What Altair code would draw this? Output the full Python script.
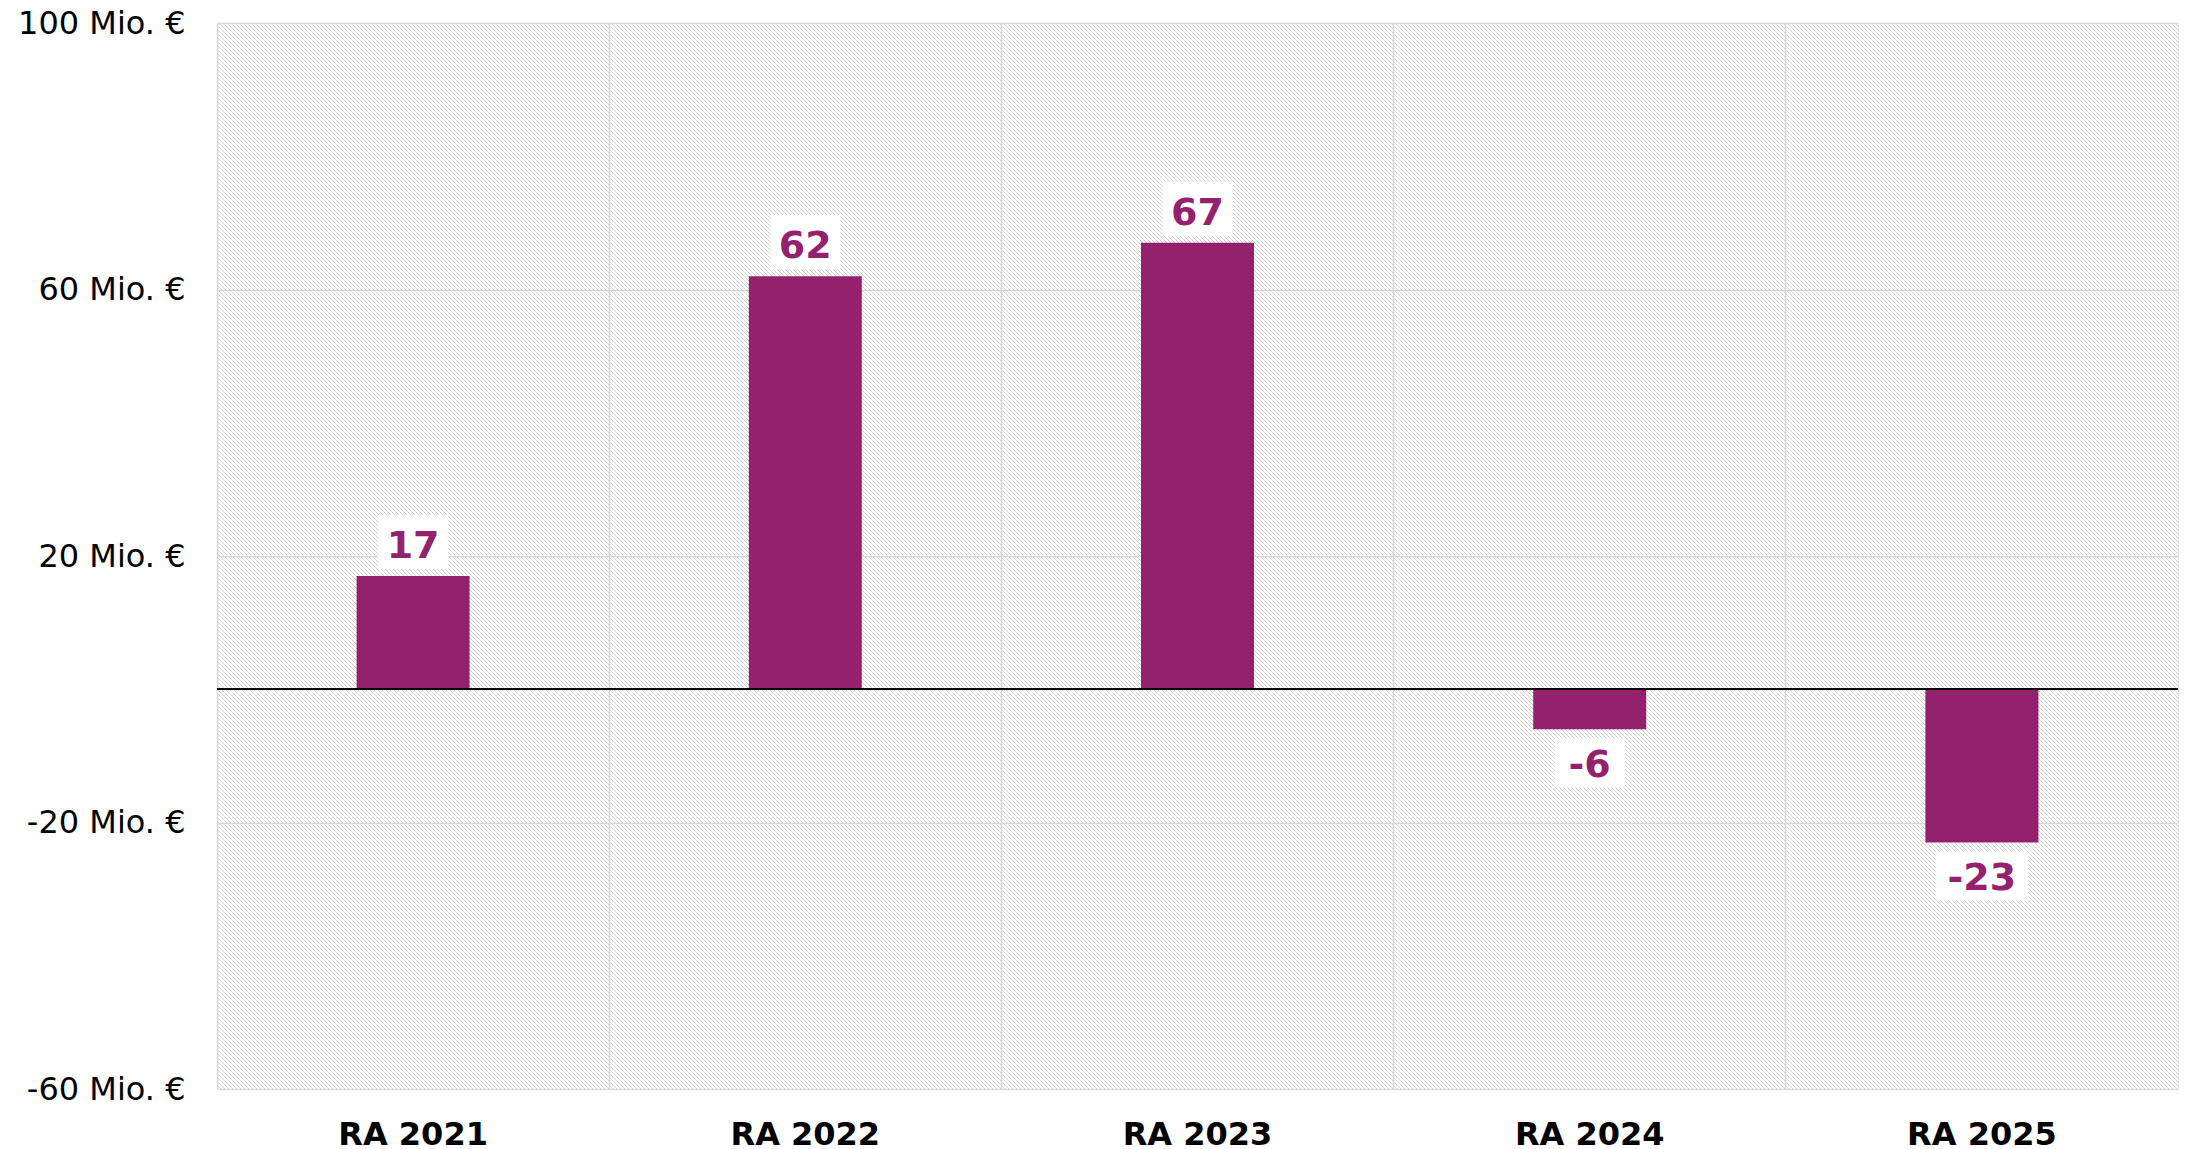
import altair as alt
import pandas as pd

categories = ["RA 2021", "RA 2022", "RA 2023", "RA 2024", "RA 2025"]
values = [17, 62, 67, -6, -23]
y_ticks = [-60, -20, 20, 60, 100]

BAR_COLOR = "#93216E"
FONT = "DejaVu Sans"
W, H = 1961, 1066

df = pd.DataFrame({"cat": categories, "value": values})

xenc = alt.X("cat:N", sort=categories, title=None,
             scale=alt.Scale(paddingInner=0, paddingOuter=0),
             axis=alt.Axis(labelAngle=0, labelFont=FONT, labelFontSize=32,
                           labelFontWeight="bold", labelColor="#000000",
                           labelPadding=30, ticks=False, tickSize=0, domain=False,
                           grid=True, bandPosition=0, gridColor="#d9d9d9",
                           gridWidth=1.5))
yscale = alt.Scale(domain=[-60, 100], nice=False, zero=False)
yenc = alt.Y("value:Q", scale=yscale, title=None,
             axis=alt.Axis(values=y_ticks, labelExpr="datum.value + ' Mio. €'",
                           labelFont=FONT, labelFontSize=32, labelColor="#000000",
                           labelPadding=32, ticks=False, tickSize=0, domain=False,
                           grid=True, gridColor="#d9d9d9", gridWidth=1.5))

base = alt.Chart(df)

bars = base.mark_bar(color=BAR_COLOR, size=113).encode(x=xenc, y=yenc)

zero = base.mark_rule(color="#000000", strokeWidth=1.5).encode(
    y=alt.datum(0, scale=yscale))

lab = base.transform_calculate(
    label="toString(datum.value)",
    bw="26 + 22 * length(toString(datum.value))")

pos = lab.transform_filter("datum.value >= 0")
neg = lab.transform_filter("datum.value < 0")

box_pos = pos.mark_bar(color="#ffffff", yOffset=-61, y2Offset=-7).encode(
    x=alt.X("cat:N", sort=categories), y=alt.Y("value:Q", scale=yscale),
    y2="value:Q", size=alt.Size("bw:Q", scale=None, legend=None))
box_neg = neg.mark_bar(color="#ffffff", yOffset=9, y2Offset=58).encode(
    x=alt.X("cat:N", sort=categories), y=alt.Y("value:Q", scale=yscale),
    y2="value:Q", size=alt.Size("bw:Q", scale=None, legend=None))

txt_pos = pos.mark_text(font=FONT, fontSize=38, fontWeight="bold",
                        color=BAR_COLOR, baseline="middle", yOffset=-29).encode(
    x=alt.X("cat:N", sort=categories), y=alt.Y("value:Q", scale=yscale),
    text="label:N")
txt_neg = neg.mark_text(font=FONT, fontSize=38, fontWeight="bold",
                        color=BAR_COLOR, baseline="middle", yOffset=37).encode(
    x=alt.X("cat:N", sort=categories), y=alt.Y("value:Q", scale=yscale),
    text="label:N")

# diagonal hatch texture for the plot background
STEP = 4
n_lines = int((W + H) / STEP) + 2
hatch = alt.Chart(alt.sequence(0, n_lines, as_="k")).transform_calculate(
    x1=f"datum.k * {STEP} - {H}",
    x2=f"datum.k * {STEP}",
    y1="0",
    y2=f"{H}",
).mark_rule(color="#d2d2d2", strokeWidth=1, clip=True).encode(
    x=alt.X("x1:Q", scale=None, axis=None),
    x2="x2:Q",
    y=alt.Y("y1:Q", scale=None, axis=None),
    y2="y2:Q",
)

main = alt.layer(bars, zero, box_pos, box_neg, txt_pos, txt_neg)

chart = alt.layer(hatch, main).resolve_scale(
    x="independent", y="independent"
).properties(
    width=W, height=H,
    autosize=alt.AutoSizeParams(type="none"),
    padding={"left": 209, "top": 15, "right": 3, "bottom": 60},
).configure_view(stroke="#c4c4c4", strokeWidth=1.5).configure(background="#ffffff")

chart.save("out.html", embed_options={"renderer": "svg", "actions": False})
